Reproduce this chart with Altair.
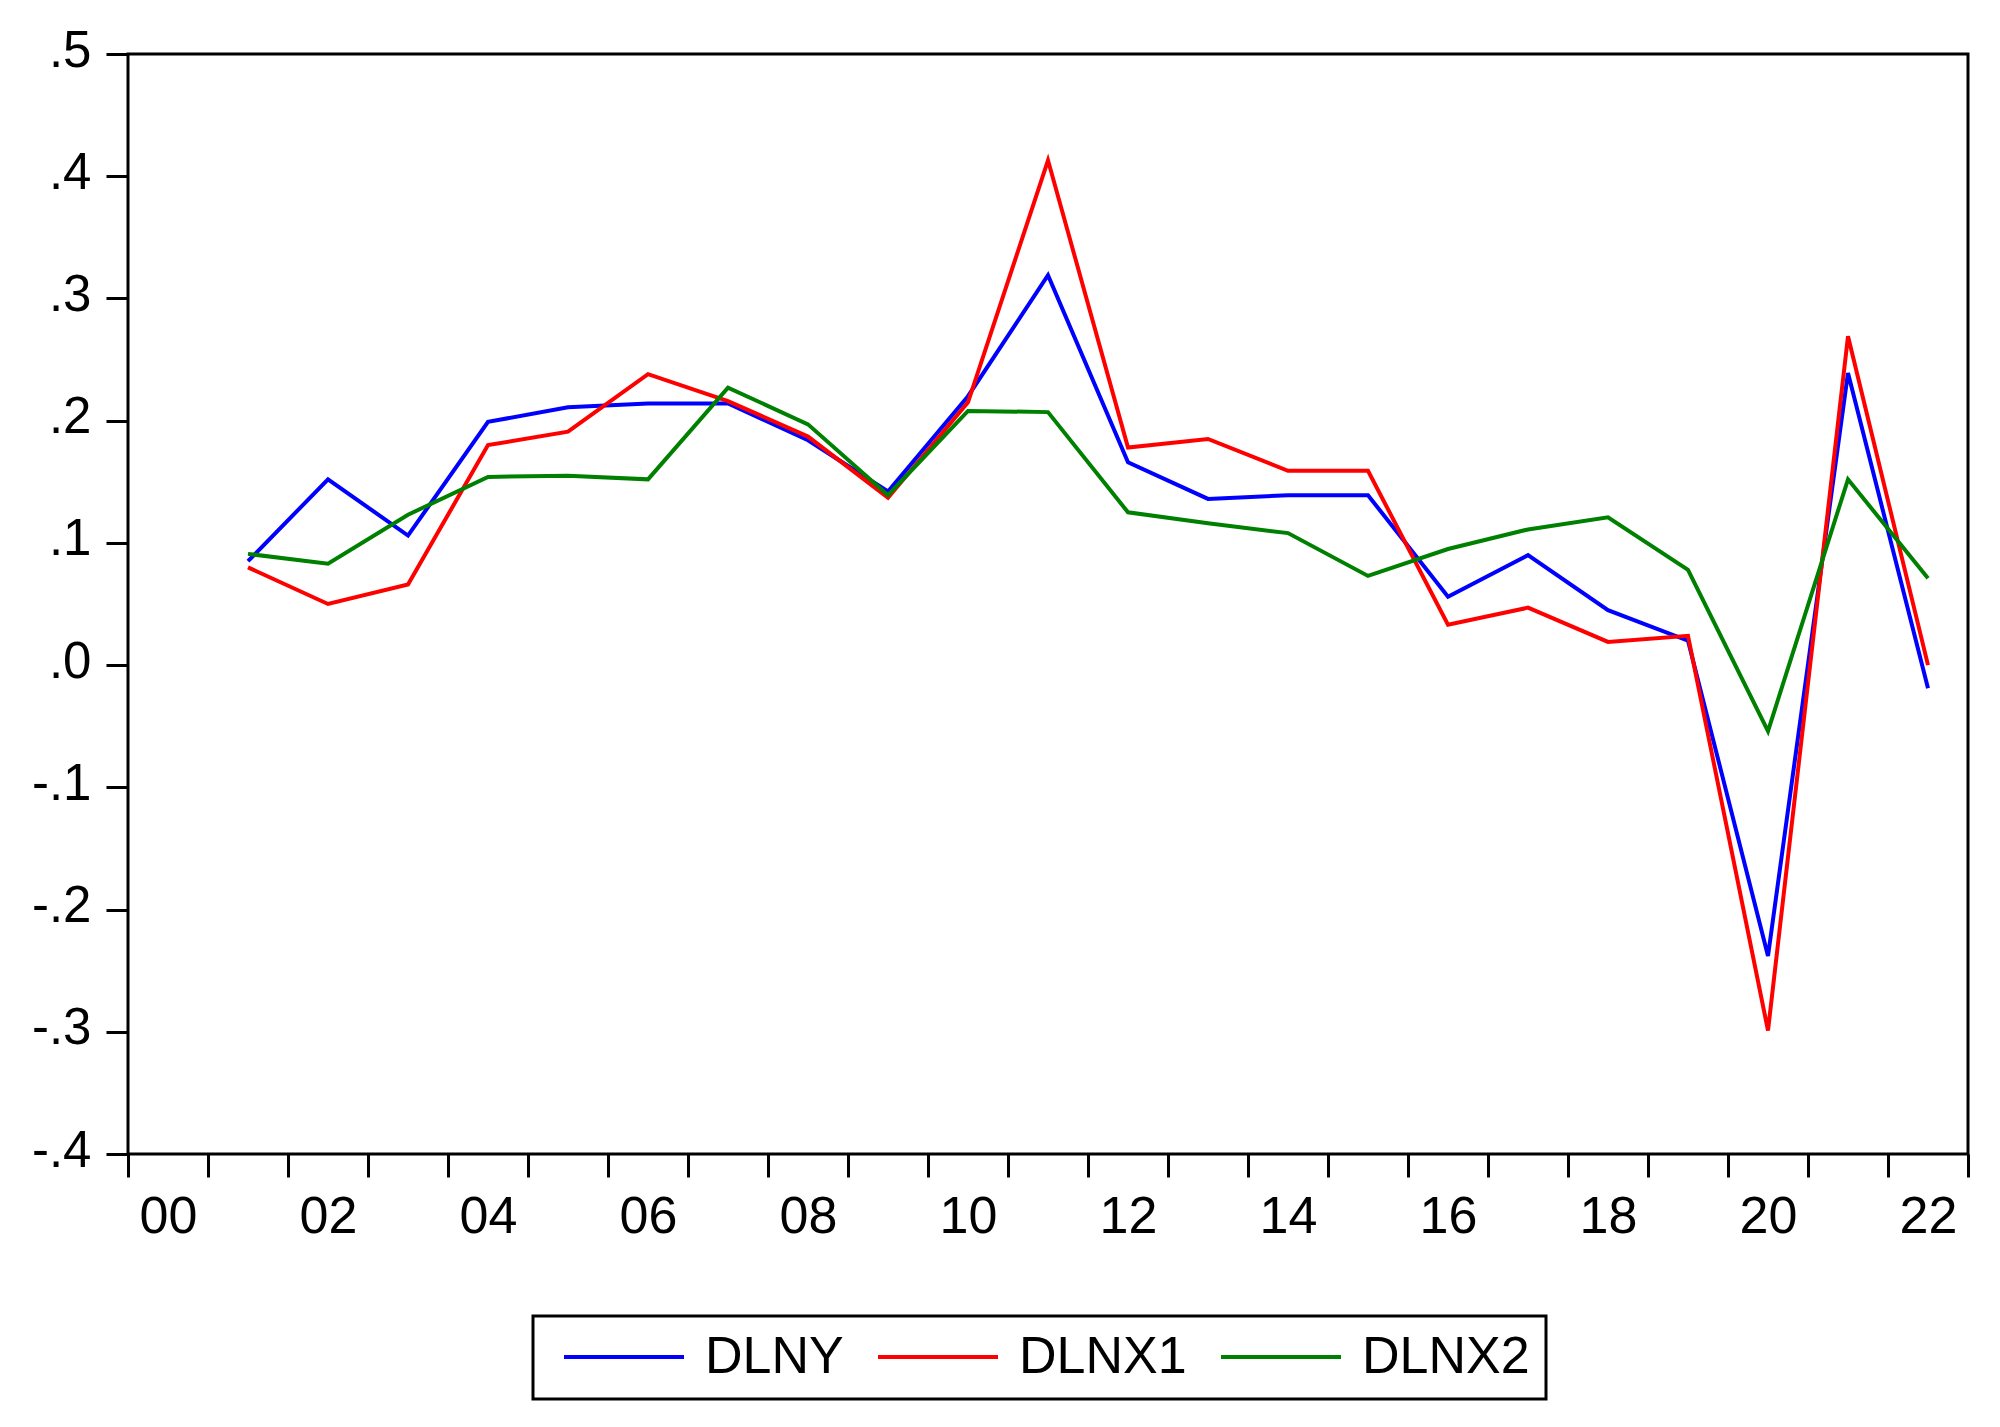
import altair as alt
import pandas as pd

years = list(range(2001, 2023))
dlny = [0.085, 0.152, 0.106, 0.199, 0.211, 0.214, 0.214, 0.184, 0.142, 0.220, 0.319,
        0.166, 0.136, 0.139, 0.139, 0.056, 0.090, 0.045, 0.020, -0.238, 0.239, -0.019]
dlnx1 = [0.080, 0.050, 0.066, 0.180, 0.191, 0.238, 0.216, 0.187, 0.137, 0.215, 0.413,
         0.178, 0.185, 0.159, 0.159, 0.033, 0.047, 0.019, 0.024, -0.299, 0.269, 0.000]
dlnx2 = [0.091, 0.083, 0.123, 0.154, 0.155, 0.152, 0.227, 0.197, 0.139, 0.208, 0.207,
         0.125, 0.116, 0.108, 0.073, 0.095, 0.111, 0.121, 0.078, -0.054, 0.152, 0.071]
series_names = ["DLNY", "DLNX1", "DLNX2"]
series_colors = ["#0000FF", "#FF0000", "#008000"]
x_ticks = list(range(2000, 2024))
y_ticks = [-0.4, -0.3, -0.2, -0.1, 0.0, 0.1, 0.2, 0.3, 0.4, 0.5]

rows = []
for name, vals in zip(series_names, [dlny, dlnx1, dlnx2]):
    for yr, v in zip(years, vals):
        rows.append({"year": yr, "series": name, "value": v})
df = pd.DataFrame(rows)

FONT = "Liberation Sans"

chart = alt.Chart(df).transform_calculate(
    xpos="datum.year + 0.5"
).mark_line(strokeWidth=4).encode(
    x=alt.X("xpos:Q",
            scale=alt.Scale(domain=[2000, 2023], nice=False, zero=False),
            axis=alt.Axis(title=None, values=x_ticks, grid=False, domain=False,
                          tickSize=23, tickWidth=3, tickColor="black",
                          labelOffset=40, labelPadding=14, labelFlush=False,
                          labelOverlap=False, labelBound=False,
                          labelFont=FONT, labelFontSize=52, labelColor="black",
                          labelExpr="(datum.value % 2 == 0 && datum.value < 2023) ? ((datum.value % 100 < 10 ? '0' : '') + (datum.value % 100)) : ''")),
    y=alt.Y("value:Q",
            scale=alt.Scale(domain=[-0.4, 0.5], nice=False, zero=False),
            axis=alt.Axis(title=None, values=y_ticks, grid=False, domain=False,
                          tickSize=22, tickWidth=3, tickColor="black",
                          labelPadding=15, labelOverlap=False, labelFlush=False,
                          labelFont=FONT, labelFontSize=51, labelColor="black",
                          labelOffset=-3,
                          labelExpr="replace(replace(format(datum.value, '.1f'), '\u2212', '-'), '0.', '.')")),
    color=alt.Color("series:N",
                    scale=alt.Scale(domain=series_names, range=series_colors),
                    sort=series_names,
                    legend=alt.Legend(title=None, orient="none", direction="horizontal",
                                      legendX=405, legendY=1262,
                                      symbolType="stroke", symbolSize=14400,
                                      symbolStrokeWidth=4, symbolOffset=13,
                                      clipHeight=50,
                                      labelOffset=19, columnPadding=19,
                                      labelFont=FONT, labelFontSize=52,
                                      labelColor="black", labelLimit=500,
                                      padding=16, strokeColor="black",
                                      fillColor="white")),
).properties(
    width=1840,
    height=1100,
    autosize=alt.AutoSizeParams(type="none"),
    padding={"left": 120, "top": 46, "right": 24, "bottom": 265},
).configure_view(
    stroke="black", strokeWidth=3
).configure_legend(
    strokeWidth=3
)

chart.save("out.html", embed_options={"renderer": "svg", "actions": False})
